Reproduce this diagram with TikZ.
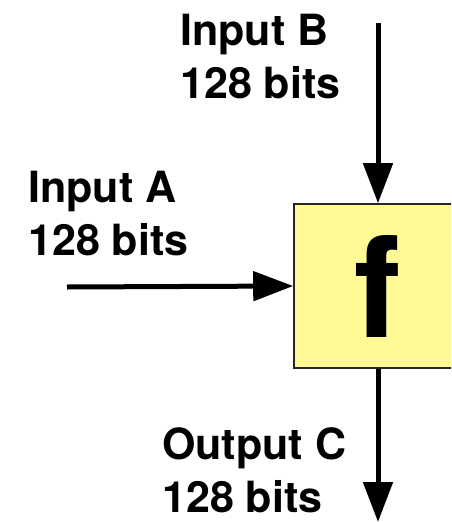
\documentclass[tikz,border=0pt]{standalone}
\usepackage{fontspec}
\setmainfont{TeX Gyre Heros}
\usetikzlibrary{arrows.meta,positioning}
\definecolor{funcyellow}{RGB}{255,250,150}
\tikzset{
  func box/.style={rectangle,draw=black!85,fill=funcyellow,line width=1.6pt,
    minimum width=168pt,minimum height=164pt,inner sep=0pt,
    font=\fontsize{140}{140}\selectfont\bfseries},
  bit edge/.style={-{Triangle[length=40pt,width=29pt]},line width=5pt},
  bit label/.style={anchor=base west,inner sep=0pt,align=left,
    font=\fontsize{43}{53}\selectfont\bfseries}
}
\begin{document}
\begin{tikzpicture}[x=1pt,y=-1pt]
    \useasboundingbox (0,0) rectangle (451,522);
    \clip (0,0) rectangle (451,522);
    \node[func box] (func) at (378,286) {f};
    \coordinate (inputB0) at (378,23);
    \coordinate (inputA0) at (67,287);
    \coordinate (outputC0) at (378,522);
    \draw[bit edge] (inputB0) -- (func.north);
    \draw[bit edge] (inputA0) -- (func.west);
    \draw[bit edge] (func.south) -- (outputC0);
    % base is the last line here
    \node[bit label] (inputB) at (180,98) {Input B\\128 bits};
    \node[bit label] (inputA) at (28,255) {Input A\\128 bits};
    \node[bit label] (outputC) at (162,512) {Output C\\128 bits};
\end{tikzpicture}
\end{document}
